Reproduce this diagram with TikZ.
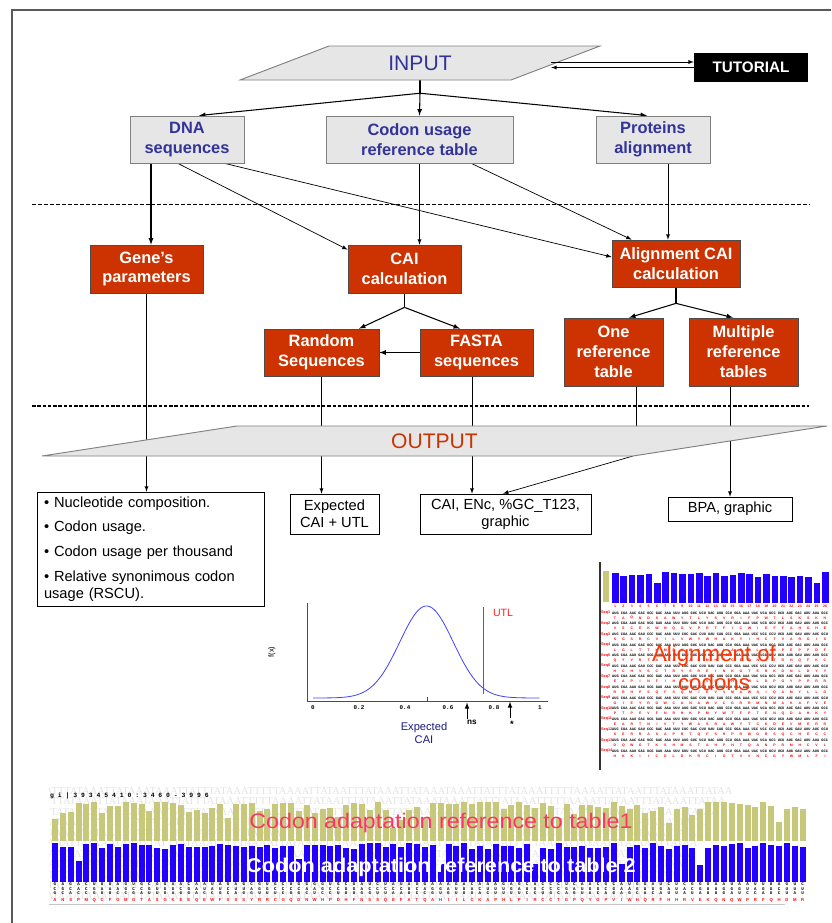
\documentclass[tikz,border=0pt]{standalone}
\usepackage{fontspec}
\setmainfont{Liberation Sans}
\newfontfamily\codonfont{Liberation Mono}
\newfontfamily\gifont[LetterSpace=60]{Liberation Mono}
\newfontfamily\bgfont{Liberation Serif}
\usetikzlibrary{positioning,calc,backgrounds}

\definecolor{boxgray}{HTML}{E6E6E6}
\definecolor{framegray}{HTML}{808080}
\definecolor{inkblue}{HTML}{333399}
\definecolor{rust}{HTML}{CC3300}
\definecolor{barblue}{HTML}{2200FF}
\definecolor{barolive}{HTML}{C8C87A}
\definecolor{labelpink}{HTML}{FF3366}
\definecolor{alignred}{HTML}{FF3300}
\definecolor{cainavy}{HTML}{1A1A80}
\definecolor{curveblue}{HTML}{4444FF}
\definecolor{utlred}{HTML}{FF2020}

\newcommand\pxu{0.03cm}
\newcommand\fsz[2]{\fontsize{#1}{#2}\selectfont}
\newcommand\codonrowA{AUG CGA AAC GAC UCC GAC AAA UUU AUG GUC UCU UAC AUG CCU GGA AAA UAC UCA GCC UCU AUC GAC AUU AUA GCC}
\newcommand\codonrowB{AUG CGA AAU GAC UCG GAU AAA UUU GUU GUC UCU UAC AUG CCU GGA AAA UAC UCG GCU UCU AUG GAU AUU AUU GCC}
\newcommand\codonrowC{AUC CGA AAC GAU CCC GAC AAG UUU CUC GAC CUU UAU CAG CCC GGA AAA UCC UCC CCU UCU AUC GAU AUU AUC GCU}
\newcommand\bgstring{ATTTATAAATTATAAATAAATTATTTATAAATTTTTAAAATTATAATTTATAAATTATAAATAAATTATTTATAAATTTTTAAAATTATAATTTATAAATTATAA}
\pgfmathdeclarerandomlist{bases}{{A}{U}{G}{C}}
\pgfmathdeclarerandomlist{aminos}{{K}{E}{S}{I}{L}{H}{A}{C}{R}{V}{F}{T}{D}{P}{N}{Y}{G}{M}{Q}{W}}

\begin{document}
\begin{tikzpicture}[
    x=\pxu, y=-\pxu,
    every node/.style={inner sep=0pt},
    inbox/.style={draw=framegray, fill=boxgray, text=inkblue, line width=0.8pt, align=center, minimum height=47*\pxu, font=\fsz{14}{17}\bfseries},
    calcbox/.style={draw=black!70, fill=rust, text=white, line width=0.6pt, align=center, minimum height=48*\pxu, font=\fsz{14}{17}\bfseries},
    outbox/.style={draw=black, fill=white, line width=0.6pt, align=center, minimum height=40*\pxu, font=\fsz{12.5}{14.5}},
    iofill/.style={draw=framegray, fill=boxgray, line width=0.8pt},
    arrow/.style={->, >=latex, line width=0.9pt},
    thinarrow/.style={->, >=latex, line width=0.6pt},
    link/.style={line width=0.6pt},
    sepline/.style={dashed, line width=0.5pt, dash pattern=on 3.4pt off 1.7pt},
    tinyred/.style={text=red, font=\fsz{3}{3}\bfseries}
  ]
  \useasboundingbox (0,0) rectangle (831,923);
  \draw[black!65, line width=1.3pt] (12,923) -- (12,10) -- (831,10);

  % input side
  \node[minimum width=360*\pxu, minimum height=34*\pxu, text=inkblue, font=\fsz{18}{20}] (input) at (420,63) {INPUT};
  \node[fill=black, text=white, minimum width=114*\pxu, minimum height=29*\pxu, font=\fsz{13}{15}\bfseries] (tutorial) at (751,67.5) {TUTORIAL};
  \node[inbox, minimum width=114*\pxu] (dna) at (187,139.5) {DNA\\sequences};
  \node[inbox, minimum width=187*\pxu] (codon) at (419.5,139.5) {Codon usage\\reference table};
  \node[inbox, minimum width=114*\pxu] (proteins) at (653,139.5) {Proteins\\alignment};

  \draw[sepline] (32,204) -- (809,204);

  % calculations
  \node[calcbox, minimum width=113*\pxu] (genes) at (146.5,269) {Gene’s\\parameters};
  \node[calcbox, minimum width=113*\pxu] (cai) at (404.5,269) {CAI\\calculation};
  \node[calcbox, minimum width=128*\pxu, minimum height=47*\pxu] (aligncai) at (676,263.5) {Alignment CAI\\calculation};
  \node[calcbox, minimum width=115*\pxu, minimum height=47*\pxu] (random) at (321.5,352.5) {Random\\Sequences};
  \node[calcbox, minimum width=113*\pxu, minimum height=47*\pxu] (fasta) at (476.5,352.5) {FASTA\\sequences};
  \node[calcbox, minimum width=99*\pxu, minimum height=68*\pxu] (onetable) at (613.5,352) {One\\reference\\table};
  \node[calcbox, minimum width=109*\pxu, minimum height=68*\pxu] (multitable) at (743.5,352) {Multiple\\reference\\tables};

  \draw[sepline, line width=0.9pt, dash pattern=on 3pt off 1.5pt] (32,406) -- (809,406);

  % output side
  \node[minimum width=785*\pxu, minimum height=30*\pxu, text=rust, font=\fsz{18}{20}] (output) at (434.5,441) {OUTPUT};
  \node[outbox, minimum width=227*\pxu, minimum height=114*\pxu, align=left, text width=213*\pxu] (bullets) at (150.5,549)
    {\textbullet\ Nucleotide composition.\\[6.5pt]\textbullet\ Codon usage.\\[6.5pt]\textbullet\ Codon usage per thousand\\[6.5pt]\textbullet\ Relative synonimous codon\\usage (RSCU).};
  \node[outbox, minimum width=89*\pxu] (expected) at (334.5,514) {Expected\\CAI + UTL};
  \node[outbox, minimum width=171*\pxu] (caires) at (505.5,514) {CAI, ENc, \%GC\_T123,\\graphic};
  \node[outbox, minimum width=124*\pxu, minimum height=24*\pxu] (bpa) at (730,509) {BPA, graphic};

  % connectors
  \draw[thinarrow] ($(input.east)+(-49,-1)$) -- ($(tutorial.west)+(0,-5.5)$);
  \draw[thinarrow] (tutorial.west) -- ($(input.east)+(-49,4.5)$);
  \begin{pgfonlayer}{background}
    \coordinate (fork) at ($(input.south)+(0,13)$);
    \coordinate (dnaA) at ($(dna.south)+(-36,0)$);
    \coordinate (dnaB) at ($(dna.south)+(-9,0)$);
    \coordinate (dnaC) at ($(dna.south)+(38,0)$);
    \coordinate (codonB) at ($(codon.south)+(52,0)$);
    \coordinate (protA) at ($(proteins.south)+(15,0)$);
    \coordinate (caifork) at ($(cai.south)+(0,14)$);
    \coordinate (alignfork) at ($(aligncai.south)+(0,16)$);
    \coordinate (fastaA) at ($(fasta.south)+(-4.5,0)$);
    \coordinate (oneA) at ($(onetable.south)+(22.5,0)$);
    \coordinate (multiA) at ($(multitable.south)+(-13.5,0)$);
    \coordinate (outBR) at ($(output)+(198.5,15)$);
    \draw[line width=0.9pt] (input.south) -- (fork);
    \draw[arrow] (fork) -- ($(dna.north)+(12,0)$);
    \draw[arrow] (fork) -- (codon.north);
    \draw[arrow] (fork) -- ($(proteins.north)+(-6,0)$);
    \draw[arrow] (dnaA) -- (dnaA |- genes.north);
    \draw[thinarrow] (dnaB) -- ($(cai.north west)+(0,5)$);
    \draw[thinarrow] (dnaC) -- ($(aligncai.west)+(0,-6.5)$);
    \draw[thinarrow] (codon.south) -- (codon.south |- cai.north);
    \draw[thinarrow] (codonB) -- ($(aligncai.north west)+(20,0)$);
    \draw[thinarrow] (protA) -- (protA |- aligncai.north);
    \draw[line width=0.9pt] (cai.south) -- (caifork);
    \draw[arrow] (caifork) -- ($(random.north)+(37.5,0)$);
    \draw[arrow] (caifork) -- ($(fasta.north)+(-16.5,0)$);
    \draw[arrow] (fasta.west) -- (random.east);
    \draw[line width=0.9pt] (aligncai.south) -- (alignfork);
    \draw[arrow] (alignfork) -- ($(onetable.north)+(15.5,0)$);
    \draw[arrow] (alignfork) -- ($(multitable.north)+(-10.5,0)$);
    \draw[thinarrow] (genes.south) -- (genes.south |- bullets.north);
    \draw[thinarrow] (random.south) -- (random.south |- expected.north);
    \draw[thinarrow] (fastaA) -- (fastaA |- caires.north);
    \draw[link] (oneA) -- (oneA |- output.center);
    \draw[thinarrow] (outBR) -- ($(caires.north)+(-2.5,0)$);
    \draw[thinarrow] (multiA) -- (multiA |- bpa.north);
    % parallelograms over the connectors
    \filldraw[iofill] ($(input)+(-180,17)$) -- ($(input)+(-91,-17)$) -- ($(input)+(180,-17)$) -- ($(input)+(91,17)$) -- cycle;
    \filldraw[iofill] ($(output)+(-392.5,15)$) -- ($(output)+(-197.5,-15)$) -- ($(output)+(392.5,-15)$) -- (outBR) -- cycle;
  \end{pgfonlayer}

  % expected CAI plot
  \draw[black!70, line width=0.6pt] (307,603) -- (307,701) -- (548,701);
  \draw[black!70, line width=0.6pt] (427,697) -- (427,701);
  \draw[curveblue, line width=0.7pt, domain=0:1, samples=100, variable=\v]
    plot ({313+227*\v}, {698-92*exp(-((\v-0.5)*(\v-0.5))/0.0279)});
  \foreach \t/\x in {0/313, 0.2/359, 0.4/405, 0.6/448, 0.8/494, 1/540}
    \node[font=\codonfont\fsz{5}{5}\bfseries] (tick\x) at (\x,708) {\t};
  \draw[utlred, line width=0.8pt] (483,607) -- (483,694);
  \node[text=utlred, font=\fsz{9}{10}] (utl) at (503,613) {UTL};
  \node[rotate=90, font=\fsz{6.5}{7}] (fx) at (272,652) {f(x)};
  \node[font=\fsz{7}{8}\bfseries] (ns) at (472,722) {ns};
  \node[font=\fsz{8}{8}\bfseries] (star) at (512,724) {*};
  \draw[arrow, line width=0.8pt] ($(ns.north)+(-5,-1)$) -- ($(ns.north)+(-5,-17)$);
  \draw[arrow, line width=0.8pt] ($(star.north)+(-2,-3)$) -- ($(star.north)+(-2,-19)$);
  \node[text=cainavy, font=\fsz{9.5}{10.5}, align=center] (expcai) at (424,733) {Expected\\CAI};

  % alignment of codons
  \begin{scope}
    \clip (600,562) rectangle (831,771);
    \fill[barolive] (603,571) rectangle (609,602);
    \pgfmathsetseed{7}
    \foreach \i in {0,...,25}{
      \pgfmathsetmacro\bartop{rnd<0.15 ? 582+rnd*6 : 572+rnd*5}
      \fill[barblue] ({612+8.4*\i},\bartop) rectangle ({618.5+8.4*\i},603);
      \node[tinyred] (num\i) at ({615+8.4*\i},606.5) {\the\numexpr\i+1\relax};
    }
    \foreach \r in {0,...,13}{
      \pgfmathsetmacro\rowy{613+10.6*\r}
      \pgfmathtruncatemacro\rv{mod(\r,3)}
      \node[text=red, font=\fsz{3.2}{3.2}\bfseries, anchor=west] (seqlab\r) at (601,\rowy) {Seq\the\numexpr\r+1\relax};
      \node[font=\codonfont\fsz{3.1}{3.1}\bfseries, anchor=west] (codons\r) at (612,\rowy)
        {\ifcase\rv\codonrowA\or\codonrowB\else\codonrowC\fi};
      \foreach \j in {0,...,25}{
        \pgfmathrandomitem{\aa}{aminos}
        \node[tinyred] (aa\r-\j) at ({615+8.4*\j},{\rowy+5}) {\aa};
      }
    }
  \end{scope}
  \draw[black!80, line width=1pt] (600,562) -- (600,770);
  \node[text=alignred, font=\fsz{19}{24}, align=center] (aligntitle) at (714,668) {Alignment of\\codons};

  % codon adaptation bars
  \begin{scope}
    \clip (49,787) rectangle (808,902.5);
    \foreach \k in {0,...,10}
      \node[anchor=west, text=gray!22, font=\bgfont\fsz{9}{9}] (bgrow\k) at ({45-7*\k},{791+10.5*\k}) {\bgstring};
    \pgfmathsetseed{11}
    \foreach \i in {0,...,95}{
      \pgfmathsetmacro\bx{52+7.87*\i}
      \pgfmathsetmacro\ytop{802+28*rnd*rnd}
      \pgfmathsetmacro\btop{rnd<0.1 ? 855+rnd*10 : 843+rnd*6}
      \fill[barolive] (\bx,\ytop) rectangle ({\bx+6},841);
      \fill[barblue] (\bx,\btop) rectangle ({\bx+6},882);
      \pgfmathrandomitem{\na}{bases}
      \pgfmathrandomitem{\nb}{bases}
      \pgfmathrandomitem{\nc}{bases}
      \pgfmathrandomitem{\am}{aminos}
      \node[font=\codonfont\fsz{3.6}{3.9}\bfseries, align=center] (col\i) at ({\bx+3},889) {\na\\\nb\\\nc};
      \node[text=red, font=\fsz{3.6}{3.6}\bfseries] (res\i) at ({\bx+3},900) {\am};
    }
  \end{scope}
  \draw[gray!45, line width=1.5pt] (49,904.5) -- (785,904.5);
  \node[anchor=west, font=\gifont\fsz{5.5}{6}\bfseries] (gilabel) at (50,796) {gi|39345410:3460-3996};
  \node[text=labelpink, font=\fsz{18}{20}] (table1) at (441,823) {\scalebox{1.1}[1]{Codon adaptation reference to table1}};
  \node[text=white, font=\fsz{17}{19}\bfseries] (table2) at (441,867) {\scalebox{1.09}[1]{Codon adaptation reference to table 2}};
\end{tikzpicture}
\end{document}
